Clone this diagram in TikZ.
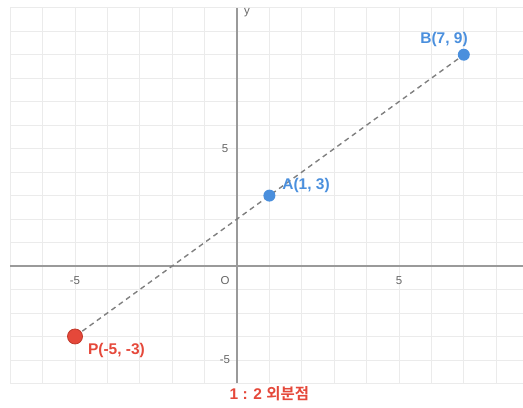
\documentclass[tikz,border=0pt]{standalone}
\usepackage{fontspec}
\setmainfont{Liberation Sans}
\newfontfamily\krfont{Noto Sans CJK KR}[BoldFont={Noto Sans CJK KR Bold}]
\definecolor{gridgray}{HTML}{EBEBEB}
\definecolor{axisgray}{HTML}{9A9A9A}
\definecolor{ticktext}{HTML}{666666}
\definecolor{ptblue}{HTML}{4A8FDD}
\definecolor{ptred}{HTML}{E5483A}
\definecolor{ptredline}{HTML}{C0392B}
\tikzset{
  tick/.style={font=\fontsize{11.5}{12}\selectfont, text=ticktext, inner sep=0pt},
  ptlabel/.style={font=\fontsize{15.5}{16}\selectfont\bfseries, inner sep=0pt},
}
\begin{document}
\begin{tikzpicture}[x=32.4pt,y=23.48pt]
  \useasboundingbox (-7.315,-6.005) rectangle (8.827,11.33);
  % grid and axes
  \foreach \i in {-7,...,8}
    \draw[gridgray, line width=0.9pt] (\i,-5) -- (\i,11);
  \foreach \j in {-5,...,11}
    \draw[gridgray, line width=0.9pt] (-7,\j) -- (8.827,\j);
  \draw[axisgray, line width=1.4pt] (-7,0) -- (8.827,0);
  \draw[axisgray, line width=1.4pt] (0,-5) -- (0,11);
  \node[tick] (xm5) at (-5,-0.6) {-5};
  \node[tick] (xp5) at (5,-0.6) {5};
  \node[tick] (orig) at (-0.37,-0.6) {O};
  \node[tick] (yp5) at (-0.37,5) {5};
  \node[tick] (ym5) at (-0.37,-4) {-5};
  \node[tick] (ylab) at (0.31,10.78) {y};
  % points
  \coordinate (P) at (-5,-3);
  \coordinate (A) at (1,3);
  \coordinate (B) at (7,9);
  \draw[gray, line width=1.4pt, dash pattern=on 5pt off 4pt] (P) -- (B);
  \fill[ptblue] (A) circle (6pt);
  \fill[ptblue] (B) circle (6pt);
  \filldraw[fill=ptred, draw=ptredline, line width=0.8pt] (P) circle (7.5pt);
  \node[ptlabel, text=ptblue] (Blab) at (6.39,9.63) {B(7, 9)};
  \node[ptlabel, text=ptblue] (Alab) at (2.13,3.45) {A(1, 3)};
  \node[ptlabel, text=ptred] (Plab) at (-3.72,-3.58) {P(-5, -3)};
  \node[ptlabel, text=ptred] (caption) at (1.0,-5.45) {1 : 2 {\krfont\bfseries 외분점}};
\end{tikzpicture}
\end{document}
